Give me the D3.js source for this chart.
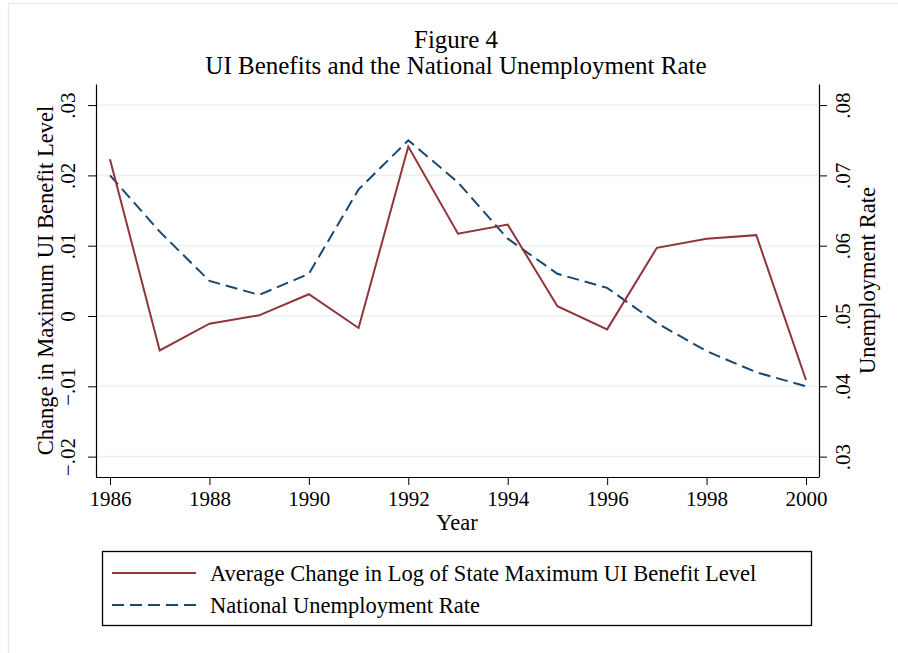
<!DOCTYPE html>
<html>
<head>
<meta charset="utf-8">
<script src="https://cdn.jsdelivr.net/npm/d3@7"></script>
<style>
  body { margin: 0; background: #fff; }
  svg { display: block; font-family: "Liberation Serif", "Times New Roman", serif; }
</style>
</head>
<body>
<div id="chart"></div>
<script>
// data
const years = [1986, 1987, 1988, 1989, 1990, 1991, 1992, 1993, 1994, 1995, 1996, 1997, 1998, 1999, 2000];
const uiChange = [0.0223, -0.0049, -0.0011, 0.0001, 0.0031, -0.0017, 0.0241, 0.0117, 0.0130, 0.0014, -0.0019, 0.0097, 0.0110, 0.0115, -0.0091];
const unempRate = [0.070, 0.062, 0.055, 0.053, 0.056, 0.068, 0.075, 0.069, 0.061, 0.056, 0.054, 0.049, 0.045, 0.042, 0.040];
const xTicks = [1986, 1988, 1990, 1992, 1994, 1996, 1998, 2000];
const leftTicks = [-0.02, -0.01, 0, 0.01, 0.02, 0.03];
const rightTicks = [0.03, 0.04, 0.05, 0.06, 0.07, 0.08];
const legendLabels = ["Average Change in Log of State Maximum UI Benefit Level", "National Unemployment Rate"];

const COLORS = {
    red: "#90353b",
    blue: "#1a476f",
    grid: "#eaf2f3",
    frame: "#e6ecec"
};

const W = 898, H = 653;
const plot = { left: 96, right: 819, top: 84, bottom: 477 };
const FS = { title: 25, tick: 21, axisTitle: 22.5, legend: 22.5 };

const svg = d3.select("#chart").append("svg")
    .attr("width", W)
    .attr("height", H);

// faint outer graph region border
svg.append("rect")
    .attr("x", 8.5).attr("y", 3.5)
    .attr("width", W + 10).attr("height", H + 10)
    .attr("fill", "none")
    .attr("stroke", COLORS.frame)
    .attr("stroke-width", 1.5);

// scales
const x = d3.scaleLinear().domain([1986, 2000]).range([110, 806]);
const yL = d3.scaleLinear().domain([-0.0229, 0.0330]).range([plot.bottom, plot.top]);
const yR = d3.scaleLinear().domain([0.0271, 0.0830]).range([plot.bottom, plot.top]);

const fmt = v => {
    if (Math.abs(v) < 1e-9) return "0";
    const s = d3.format(".2f")(v).replace("0.", ".");
    return s.replace("-", "\u2212");
};

// gridlines
svg.append("g")
    .selectAll("line")
    .data(leftTicks)
    .join("line")
    .attr("x1", plot.left).attr("x2", plot.right)
    .attr("y1", d => yL(d)).attr("y2", d => yL(d))
    .attr("stroke", COLORS.grid)
    .attr("stroke-width", 1.6);

// x axis
const xAxis = svg.append("g")
    .attr("transform", `translate(0,${plot.bottom})`)
    .call(d3.axisBottom(x).tickValues(xTicks).tickFormat(d3.format("d")).tickSize(8).tickPadding(6).tickSizeOuter(0));
xAxis.select(".domain").attr("d", `M${plot.left},0.5H${plot.right}`).attr("stroke", "#000").attr("stroke-width", 1.2);
xAxis.selectAll("text").attr("font-size", FS.tick).attr("font-family", "Liberation Serif").attr("fill", "#000");

// left axis
const yAxisL = svg.append("g")
    .attr("transform", `translate(${plot.left},0)`)
    .call(d3.axisLeft(yL).tickValues(leftTicks).tickFormat(fmt).tickSize(8).tickSizeOuter(0));
yAxisL.select(".domain").attr("stroke", "#000").attr("stroke-width", 1.2);
yAxisL.selectAll(".tick text")
    .attr("font-size", FS.tick).attr("font-family", "Liberation Serif").attr("fill", "#000")
    .attr("x", 0).attr("dy", 0)
    .attr("text-anchor", "middle")
    .attr("transform", "translate(-21,0) rotate(-90)");

// right axis
const yAxisR = svg.append("g")
    .attr("transform", `translate(${plot.right},0)`)
    .call(d3.axisRight(yR).tickValues(rightTicks).tickFormat(fmt).tickSize(8).tickSizeOuter(0));
yAxisR.select(".domain").attr("stroke", "#000").attr("stroke-width", 1.2);
yAxisR.selectAll(".tick text")
    .attr("font-size", FS.tick).attr("font-family", "Liberation Serif").attr("fill", "#000")
    .attr("x", 0).attr("dy", 0)
    .attr("text-anchor", "middle")
    .attr("transform", "translate(31,0) rotate(-90)");

// axis titles
svg.append("text")
    .attr("transform", `translate(53,${(plot.top + plot.bottom) / 2}) rotate(-90)`)
    .attr("text-anchor", "middle")
    .attr("font-size", FS.axisTitle)
    .text("Change in Maximum UI Benefit Level");

svg.append("text")
    .attr("transform", `translate(875,${(plot.top + plot.bottom) / 2}) rotate(-90)`)
    .attr("text-anchor", "middle")
    .attr("font-size", FS.axisTitle)
    .text("Unemployment Rate");

svg.append("text")
    .attr("x", 457).attr("y", 530)
    .attr("text-anchor", "middle")
    .attr("font-size", FS.axisTitle)
    .text("Year");

// title
svg.append("text")
    .attr("x", 456).attr("y", 48)
    .attr("text-anchor", "middle")
    .attr("font-size", FS.title)
    .text("Figure 4");
svg.append("text")
    .attr("x", 456).attr("y", 74)
    .attr("text-anchor", "middle")
    .attr("font-size", FS.title)
    .text("UI Benefits and the National Unemployment Rate");

// series
const lineL = d3.line().x((d, i) => x(years[i])).y(d => yL(d));
const lineR = d3.line().x((d, i) => x(years[i])).y(d => yR(d));

svg.append("path")
    .datum(unempRate)
    .attr("d", lineR)
    .attr("fill", "none")
    .attr("stroke", COLORS.blue)
    .attr("stroke-width", 2)
    .attr("stroke-dasharray", "12,6");

svg.append("path")
    .datum(uiChange)
    .attr("d", lineL)
    .attr("fill", "none")
    .attr("stroke", COLORS.red)
    .attr("stroke-width", 2);

// legend
const legend = svg.append("g");
legend.append("rect")
    .attr("x", 102.5).attr("y", 551.5)
    .attr("width", 709).attr("height", 74)
    .attr("fill", "#fff")
    .attr("stroke", "#000")
    .attr("stroke-width", 1.3);

const legendStyles = [
    { color: COLORS.red, dash: null, y: 573 },
    { color: COLORS.blue, dash: "12,6", y: 605 }
];
legendStyles.forEach((s, i) => {
    legend.append("line")
        .attr("x1", 112).attr("x2", 196)
        .attr("y1", s.y).attr("y2", s.y)
        .attr("stroke", s.color)
        .attr("stroke-width", 2)
        .attr("stroke-dasharray", s.dash);
    legend.append("text")
        .attr("x", 210).attr("y", s.y + 8)
        .attr("font-size", FS.legend)
        .text(legendLabels[i]);
});
</script>
</body>
</html>
